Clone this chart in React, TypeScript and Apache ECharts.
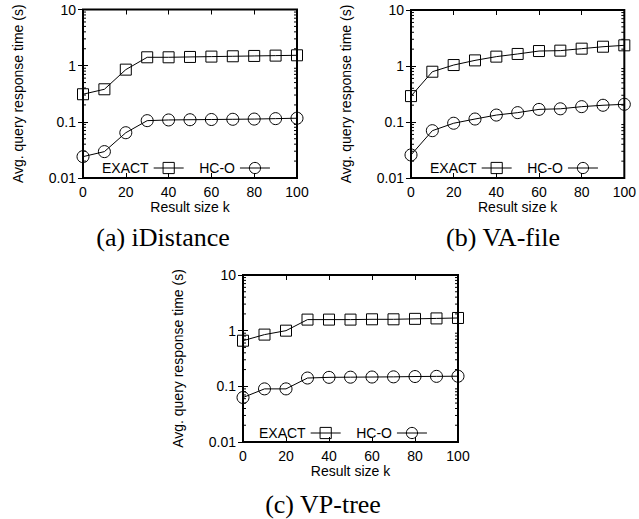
import React, { useEffect, useRef } from "react";
import * as echarts from "echarts";

const kValues = [0, 10, 20, 30, 40, 50, 60, 70, 80, 90, 100];
const iDistanceExact = [0.31, 0.38, 0.85, 1.41, 1.41, 1.43, 1.45, 1.47, 1.49, 1.51, 1.53];
const iDistanceHCO = [0.024, 0.0295, 0.064, 0.105, 0.108, 0.109, 0.11, 0.111, 0.112, 0.114, 0.116];
const vaFileExact = [0.29, 0.79, 1.04, 1.26, 1.47, 1.64, 1.85, 1.88, 2.04, 2.21, 2.34];
const vaFileHCO = [0.0258, 0.07, 0.095, 0.113, 0.133, 0.147, 0.168, 0.172, 0.188, 0.199, 0.207];
const vpTreeExact = [0.66, 0.85, 1.0, 1.58, 1.58, 1.58, 1.6, 1.6, 1.63, 1.66, 1.69];
const vpTreeHCO = [0.063, 0.09, 0.09, 0.141, 0.145, 0.146, 0.147, 0.148, 0.15, 0.151, 0.152];
const seriesNames = ["EXACT", "HC-O"];
const captions = ["(a) iDistance", "(b) VA-file", "(c) VP-tree"];
const minorTickValues = [
  0.02, 0.03, 0.04, 0.05, 0.06, 0.07, 0.08, 0.09,
  0.2, 0.3, 0.4, 0.5, 0.6, 0.7, 0.8, 0.9,
  2, 3, 4, 5, 6, 7, 8, 9,
];

const SANS = "'Liberation Sans', Arial, Helvetica, sans-serif";
const SERIF = "'Liberation Serif', 'Times New Roman', serif";

const panels = [
  { exact: iDistanceExact, hco: iDistanceHCO, grid: { left: 83, top: 9.5, width: 214, height: 168.5 }, legend: { left: 102, top: 161 }, caption: { x: 163, y: 237 } },
  { exact: vaFileExact, hco: vaFileHCO, grid: { left: 411, top: 10, width: 216, height: 168 }, legend: { left: 430, top: 161 }, caption: { x: 503, y: 237 } },
  { exact: vpTreeExact, hco: vpTreeHCO, grid: { left: 243, top: 275, width: 215, height: 167 }, legend: { left: 259, top: 426 }, caption: { x: 323, y: 504 } },
];

function fmtLog(v: number) {
  if (v >= 1) return String(Math.round(v));
  return String(Number(v.toPrecision(1)));
}

export default function App() {
  const ref = useRef<HTMLDivElement>(null);
  useEffect(() => {
    document.body.style.margin = "0";
    if (!ref.current) return;
    const chart = echarts.init(ref.current, null, { renderer: "svg" });
    const grids: any[] = [];
    const xAxes: any[] = [];
    const yAxes: any[] = [];
    const series: any[] = [];
    const legends: any[] = [];
    const graphics: any[] = [];
    const tick = { show: true, inside: true, length: 5, lineStyle: { color: "#000", width: 1 } };
    panels.forEach((p, i) => {
      grids.push({ ...p.grid, show: true, borderColor: "#000", borderWidth: 2, backgroundColor: "transparent", containLabel: false });
      xAxes.push({
        type: "value", gridIndex: i, min: 0, max: 100, interval: 20, position: "bottom",
        name: "Result size k", nameLocation: "middle", nameGap: 22,
        nameTextStyle: { fontFamily: SANS, fontSize: 14, color: "#000" },
        axisLine: { show: false }, axisTick: tick, splitLine: { show: false },
        axisLabel: { fontFamily: SANS, fontSize: 14, color: "#000", margin: 7 },
      });
      xAxes.push({
        type: "value", gridIndex: i, min: 0, max: 100, interval: 20, position: "top",
        axisLine: { show: false }, axisTick: tick, splitLine: { show: false }, axisLabel: { show: false },
      });
      yAxes.push({
        type: "log", logBase: 10, gridIndex: i, min: 0.01, max: 10, position: "left",
        name: "Avg. query response time (s)", nameLocation: "middle", nameGap: 58, nameRotate: 90,
        nameTextStyle: { fontFamily: SANS, fontSize: 14, color: "#000" },
        axisLine: { show: false }, axisTick: tick, splitLine: { show: false },
        axisLabel: { fontFamily: SANS, fontSize: 14, color: "#000", margin: 7, formatter: fmtLog },
      });
      yAxes.push({
        type: "log", logBase: 10, gridIndex: i, min: 0.01, max: 10, position: "right",
        axisLine: { show: false }, axisTick: tick, splitLine: { show: false }, axisLabel: { show: false },
      });
      const common = {
        type: "line", xAxisIndex: 2 * i, yAxisIndex: 2 * i,
        lineStyle: { color: "#000", width: 1 },
        itemStyle: { color: "rgba(0,0,0,0)", borderColor: "#000", borderWidth: 1 },
        showAllSymbol: true, clip: false,
      };
      series.push({ ...common, name: seriesNames[0], symbol: "rect", symbolSize: 11, data: kValues.map((k, j) => [k, p.exact[j]]) });
      series.push({ ...common, name: seriesNames[1], symbol: "circle", symbolSize: 12, data: kValues.map((k, j) => [k, p.hco[j]]) });
      series.push({
        type: "custom", xAxisIndex: 2 * i, yAxisIndex: 2 * i, silent: true, clip: false,
        data: minorTickValues.map((v) => [0, v]),
        renderItem: (params: any, api: any) => {
          const pt = api.coord([0, api.value(1)]);
          const cs = params.coordSys;
          const st = { stroke: "#000", lineWidth: 1 };
          return {
            type: "group",
            children: [
              { type: "line", shape: { x1: cs.x, y1: pt[1], x2: cs.x + 3, y2: pt[1] }, style: st },
              { type: "line", shape: { x1: cs.x + cs.width - 3, y1: pt[1], x2: cs.x + cs.width, y2: pt[1] }, style: st },
            ],
          };
        },
      });
      legends.push({
        left: p.legend.left, top: p.legend.top, orient: "horizontal", align: "right", padding: 0,
        data: seriesNames, itemWidth: 30, itemHeight: 14, itemGap: 15, selectedMode: false,
        itemStyle: { color: "rgba(0,0,0,0)", borderColor: "#000", borderWidth: 1 },
        lineStyle: { color: "#000", width: 1 },
        textStyle: { fontFamily: SANS, fontSize: 14, color: "#000" },
      });
      graphics.push({
        type: "text", x: p.caption.x, y: p.caption.y,
        style: { text: captions[i], fontFamily: SERIF, fontSize: 26, fill: "#000", align: "center", verticalAlign: "middle" },
      });
    });
    chart.setOption({
      animation: false,
      backgroundColor: "#fff",
      grid: grids,
      xAxis: xAxes,
      yAxis: yAxes,
      legend: legends,
      series,
      graphic: graphics,
    });
    return () => chart.dispose();
  }, []);
  return <div ref={ref} style={{ width: 639, height: 519, position: "absolute", left: 0, top: 0 }} />;
}
